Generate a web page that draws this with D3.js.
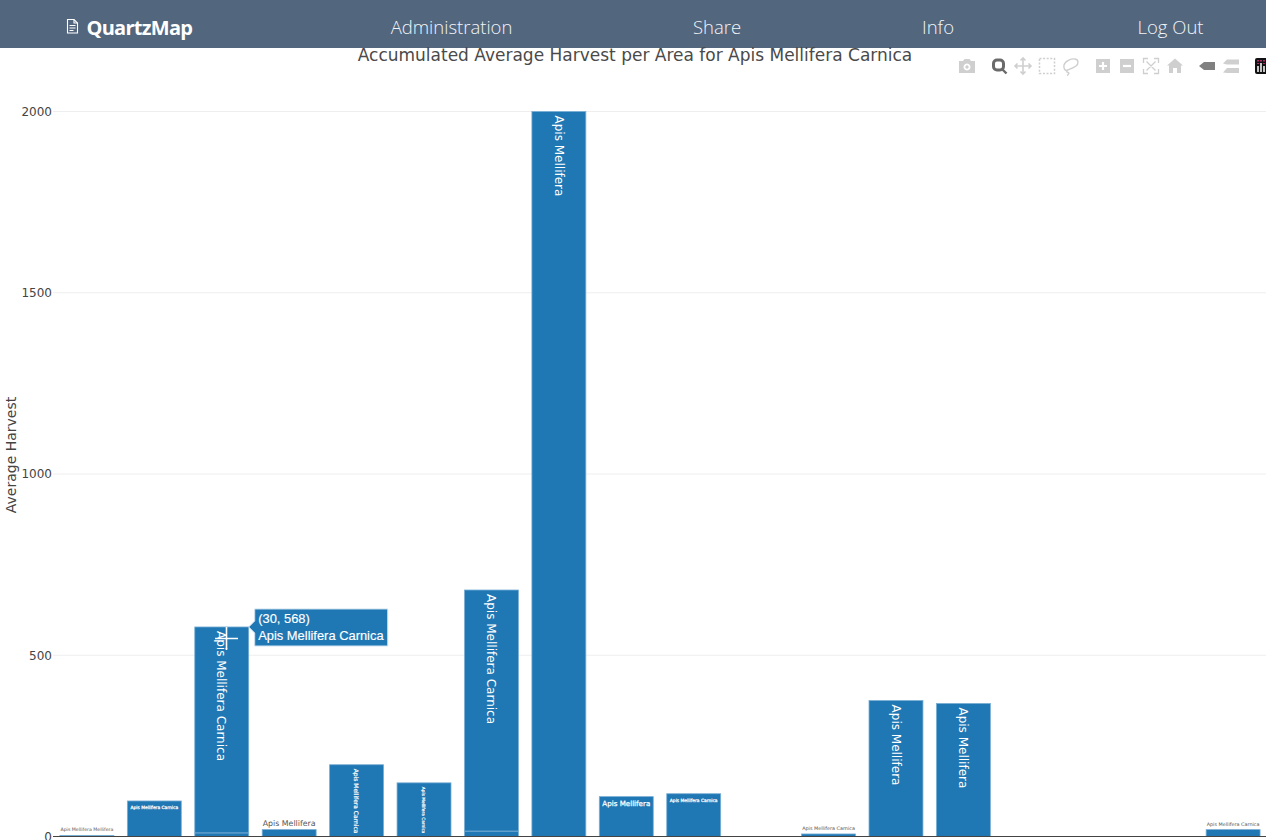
<!DOCTYPE html>
<html>
<head>
<meta charset="utf-8">
<title>QuartzMap</title>
<script src="https://cdn.jsdelivr.net/npm/d3@7/dist/d3.min.js"></script>
<style>
  html, body { margin: 0; padding: 0; background: #fff; overflow: hidden; }
  svg { display: block; }
</style>
</head>
<body>
<svg id="chart" width="1266" height="840"></svg>
<script>
// Harvest data: one stacked bar per area, a small base segment and the main segment.
const areas = [10, 20, 30, 40, 50, 60, 70, 80, 90, 100, 120, 130, 140, 180];
const baseHarvest = [0, 0, 10, 0, 0, 0, 15, 0, 0, 0, 0, 0, 0, 0];
const mainHarvest = [3, 98, 568, 19, 198, 148, 665, 2000, 110, 118, 7, 375, 367, 19];
const speciesNames = [
  "Apis Mellifera Mellifera", "Apis Mellifera Carnica", "Apis Mellifera Carnica",
  "Apis Mellifera", "Apis Mellifera Carnica", "Apis Mellifera Carnica",
  "Apis Mellifera Carnica", "Apis Mellifera", "Apis Mellifera",
  "Apis Mellifera Carnica", "Apis Mellifera Carnica", "Apis Mellifera",
  "Apis Mellifera", "Apis Mellifera Carnica"
];
const yTicks = [0, 500, 1000, 1500, 2000];
const navLinks = ["Administration", "Share", "Info", "Log Out"];
const chartTitle = "Accumulated Average Harvest per Area for Apis Mellifera Carnica";
const yTitle = "Average Harvest";
const hoverIndex = 2;

const BAR_BLUE = "#1f77b4";
const BAR_EDGE = "#79aed4";
const PLOT_FONT = "'DejaVu Sans', Verdana, sans-serif";

const svg = d3.select("#chart");
const x = d3.scaleLinear().domain([10, 180]).range([86.9, 1233.1]);
const y = d3.scaleLinear().domain([0, 2000]).range([836.5, 111.5]);
const barWidth = x(18) - x(10);

// Navigation bar
const nav = svg.append("g");
nav.append("rect").attr("width", 1266).attr("height", 48).attr("fill", "#52667e");
const docIcon = nav.append("g").attr("fill", "none").attr("stroke", "#fff").attr("stroke-width", 1.1);
docIcon.append("path").attr("d", "M67.5 19.5h6.5l3.5 3.5v10h-10z");
docIcon.append("path").attr("d", "M74 19.5v3.5h3.5M69.5 25.5h6M69.5 28h6M69.5 30.5h4");
nav.append("text").attr("x", 86.5).attr("y", 34.5).text("QuartzMap")
  .attr("fill", "#fff").attr("font-family", "'Open Sans', sans-serif")
  .attr("font-weight", 700).attr("font-size", 20).attr("letter-spacing", -0.72);
const navCenters = [451.5, 717, 938, 1170.5];
nav.selectAll("text.link").data(navLinks).join("text").attr("class", "link")
  .attr("x", (d, i) => navCenters[i]).attr("y", 34).attr("text-anchor", "middle")
  .attr("fill", "#f2f5f8").attr("font-family", "'Open Sans', sans-serif")
  .attr("font-weight", 300).attr("font-size", 18.5).text(d => d);

// Title
svg.append("text").attr("x", 635).attr("y", 60.5).attr("text-anchor", "middle")
  .attr("font-family", PLOT_FONT).attr("font-size", 17).attr("fill", "#4a4a4a").text(chartTitle);

// Horizontal grid and value axis
svg.append("g").selectAll("line").data(yTicks.filter(d => d > 0)).join("line")
  .attr("x1", 53).attr("x2", 1266).attr("y1", d => y(d)).attr("y2", d => y(d))
  .attr("stroke", "#eee").attr("stroke-width", 1);

const yAxis = svg.append("g").attr("transform", "translate(53,0)")
  .call(d3.axisLeft(y).tickValues(yTicks).tickSize(0).tickPadding(1).tickFormat(d3.format("d")));
yAxis.select(".domain").remove();
yAxis.selectAll("text").attr("font-family", PLOT_FONT).attr("font-size", 12).attr("fill", "#444");

svg.append("text").attr("transform", "translate(15.5,455) rotate(-90)").attr("text-anchor", "middle")
  .attr("font-family", PLOT_FONT).attr("font-size", 14).attr("fill", "#444").text(yTitle);

// Stacked bars
const bars = svg.append("g");
const rows = areas.map((area, i) => ({
  area, base: baseHarvest[i], main: mainHarvest[i], name: speciesNames[i]
}));
const drawSegment = (from, to) => bars.append("g").selectAll("rect").data(rows).join("rect")
  .attr("x", d => x(d.area) - barWidth / 2)
  .attr("width", barWidth)
  .attr("y", d => y(to(d)))
  .attr("height", d => y(from(d)) - y(to(d)))
  .attr("fill", BAR_BLUE).attr("stroke", BAR_EDGE).attr("stroke-width", 0.8);
drawSegment(() => 0, d => d.base);
drawSegment(d => d.base, d => d.base + d.main);

// Zero line on top of the bars
svg.append("line").attr("x1", 53).attr("x2", 1266).attr("y1", y(0)).attr("y2", y(0))
  .attr("stroke", "#444").attr("stroke-width", 1);

// Bar labels: placed inside when there is room, turned upright on tall bars,
// and shrunk until they fit, otherwise set above the bar.
const labels = svg.append("g").attr("font-family", PLOT_FONT);
rows.forEach(d => {
  const top = y(d.base + d.main);
  const height = y(0) - top;
  const cx = x(d.area);
  const t = labels.append("text").text(d.name).attr("font-size", 12);
  const fullLength = t.node().getComputedTextLength();
  if (height < 25) {
    const size = 12 * Math.min(1, (barWidth - 1) / fullLength);
    t.attr("font-size", size).attr("fill", "#555").attr("text-anchor", "middle")
      .attr("x", cx).attr("y", top - 4);
  } else if (height > 50) {
    const size = 12 * Math.min(1, (height - 7) / fullLength);
    t.attr("font-size", size).attr("fill", "#fff").attr("text-anchor", "start")
      .attr("stroke", "#fff").attr("stroke-width", size < 9 ? 0.2 : 0)
      .attr("transform", `translate(${cx - size * 0.36},${top + 4}) rotate(90)`);
  } else {
    const size = 12 * Math.min(1, (barWidth - 6) / fullLength);
    t.attr("font-size", size).attr("fill", "#fff").attr("text-anchor", "middle")
      .attr("stroke", "#fff").attr("stroke-width", 0.25)
      .attr("x", cx).attr("y", top + 4.5 + size * 0.75);
  }
});

// Hover label for the highlighted bar
const hovered = rows[hoverIndex];
const hoverY = y(hovered.main + hovered.base);
const hover = svg.append("g").attr("transform", `translate(${x(hovered.area) + barWidth / 2},${hoverY})`);
hover.append("path")
  .attr("d", "M0 0L6 -6V-18H139V19H6V6Z")
  .attr("fill", BAR_BLUE).attr("stroke", "#cfe0ee").attr("stroke-width", 1);
hover.append("text").attr("x", 9.5).attr("y", -3.5).attr("fill", "#fff")
  .attr("font-family", "'Liberation Sans', Arial, sans-serif").attr("font-size", 12.9)
  .attr("stroke", "#fff").attr("stroke-width", 0.15)
  .text(`(${hovered.area}, ${hovered.main})`);
hover.append("text").attr("x", 9.5).attr("y", 13.5).attr("fill", "#fff")
  .attr("font-family", "'Liberation Sans', Arial, sans-serif").attr("font-size", 12.9)
  .attr("stroke", "#fff").attr("stroke-width", 0.15)
  .text(hovered.name);

// Crosshair pointer
svg.append("path").attr("d", "M215 638.5H238M226.5 627V650")
  .attr("stroke", "#fff").attr("stroke-width", 1.6).attr("fill", "none");

// Chart toolbar icons
const tools = svg.append("g");
const LIGHT = "#cfcfcf", DARK = "#6a6a6a";
// camera
tools.append("path").attr("fill", LIGHT).attr("fill-rule", "evenodd")
  .attr("d", "M959 61h4l1.5-2h5l1.5 2h4v12h-16zM967 63.5a3.5 3.5 0 1 0 0.01 0zM967 65.3a1.7 1.7 0 1 1 -0.01 0z");
// zoom
tools.append("rect").attr("x", 993.5).attr("y", 60).attr("width", 10).attr("height", 10).attr("rx", 3.5)
  .attr("fill", "#fff").attr("stroke", DARK).attr("stroke-width", 3);
tools.append("path").attr("stroke", DARK).attr("stroke-width", 2.4).attr("d", "M1002 69l4.5 4.5");
// pan
tools.append("path").attr("fill", "none").attr("stroke", LIGHT).attr("stroke-width", 1.6)
  .attr("d", "M1015.5 66h15M1023 58.5v15M1020.5 60.5l2.5-2.5 2.5 2.5M1020.5 71.5l2.5 2.5 2.5-2.5M1017.5 63.5l-2.5 2.5 2.5 2.5M1028.5 63.5l2.5 2.5-2.5 2.5");
// box select
tools.append("rect").attr("x", 1039.5).attr("y", 58.5).attr("width", 15).attr("height", 15)
  .attr("fill", "none").attr("stroke", LIGHT).attr("stroke-width", 1.5).attr("stroke-dasharray", "2 1.6");
// lasso
tools.append("path").attr("fill", "none").attr("stroke", LIGHT).attr("stroke-width", 1.4)
  .attr("d", "M1067 71c-3-1-3.5-3-3-6 1-4 7-6.5 11-6 4 .5 3.5 5 1 7-2.5 2-6 3-8.5 4-1 .5-1 2.5 .5 2.5 1.5 0 1 2 -1 3");
// zoom in and out
tools.append("rect").attr("x", 1096).attr("y", 59).attr("width", 14).attr("height", 14).attr("fill", LIGHT);
tools.append("path").attr("stroke", "#fff").attr("stroke-width", 2.2).attr("d", "M1099 66h8M1103 62v8");
tools.append("rect").attr("x", 1120).attr("y", 59).attr("width", 14).attr("height", 14).attr("fill", LIGHT);
tools.append("path").attr("stroke", "#fff").attr("stroke-width", 2.2).attr("d", "M1123 66h8");
// autoscale
tools.append("path").attr("fill", "none").attr("stroke", LIGHT).attr("stroke-width", 1.3)
  .attr("d", "M1143.5 63v-4.5h4.5M1154 58.5h4.5v4.5M1158.5 69v4.5h-4.5M1148 73.5h-4.5v-4.5M1146.5 61.5l9 9M1155.5 61.5l-9 9");
// home
tools.append("path").attr("fill", LIGHT)
  .attr("d", "M1175 58.5l8 7h-2v7.5h-4v-5h-4v5h-4v-7.5h-2z");
// hover closest
tools.append("path").attr("fill", "#808080").attr("d", "M1199 66l5-4h11v8h-11z");
// hover compare
tools.append("path").attr("fill", LIGHT).attr("d", "M1223 63.5l4-4h12v5h-12zM1223 72.5l4-4.5h12v5h-12z");
// library logo, cut by the page edge
tools.append("rect").attr("x", 1255).attr("y", 58).attr("width", 16).attr("height", 16).attr("rx", 2).attr("fill", "#111");
tools.append("path").attr("stroke", "#fff").attr("stroke-width", 1.5).attr("d", "M1258 66v6M1261 63v9M1264 66v6");
tools.append("path").attr("stroke", "#e8308a").attr("stroke-width", 1.5).attr("stroke-dasharray", "1.5 1.5").attr("d", "M1258 60v4M1261 60v2M1264 60v4");
</script>
</body>
</html>
